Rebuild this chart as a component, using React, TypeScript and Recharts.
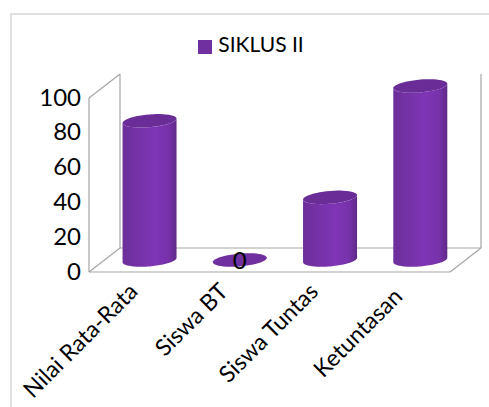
import { BarChart, Bar, XAxis, YAxis, Legend, LabelList } from 'recharts';

const categories = ['Nilai Rata-Rata', 'Siswa BT', 'Siswa Tuntas', 'Ketuntasan'];
const siklusII = [80, 0, 36, 100];
const yTicks = [0, 20, 40, 60, 80, 100];

const data = categories.map((name, i) => ({ name, value: siklusII[i] }));

const FONT = 'Lato, Carlito, sans-serif';
const WIDTH = 489;
const HEIGHT = 407;
const LEFT = 89;
const RIGHT = 450;
const TOP = 98;
const BOTTOM = 272;
// depth of the fake 3D box
const DX = 31;
const DY = 24;
const WALL = '#a6a6a6';

function Walls() {
  const lines = [
    [LEFT, TOP, LEFT, BOTTOM],
    [LEFT, BOTTOM, RIGHT, BOTTOM],
    [LEFT, TOP, LEFT + DX, TOP - DY],
    [LEFT + DX, TOP - DY, LEFT + DX, BOTTOM - DY],
    [LEFT, BOTTOM, LEFT + DX, BOTTOM - DY],
    [LEFT + DX, BOTTOM - DY, RIGHT + DX, BOTTOM - DY],
    [RIGHT, BOTTOM, RIGHT + DX, BOTTOM - DY],
    [RIGHT + DX, TOP - DY, RIGHT + DX, BOTTOM - DY],
  ];
  return (
    <g>
      {lines.map(([x1, y1, x2, y2], i) => (
        <line key={i} x1={x1} y1={y1} x2={x2} y2={y2} stroke={WALL} strokeWidth={1.2} />
      ))}
    </g>
  );
}

// sheared ellipse outline between two angles, as polyline points
function rim(cx: number, cy: number, rx: number, ry: number, from: number, to: number) {
  const slope = -2.2;
  const pts: string[] = [];
  for (let i = 0; i <= 48; i++) {
    const t = from + ((to - from) * i) / 48;
    pts.push(`${cx + rx * Math.cos(t)} ${cy + ry * Math.sin(t) + slope * Math.cos(t)}`);
  }
  return pts;
}

function Cylinder(props: any) {
  const { x, y, width, height } = props;
  const rx = width / 2;
  const ry = 6.4;
  const cx = x + DX / 2 + rx;
  const topY = y - DY / 2;
  const baseY = topY + height;

  if (height < 1) {
    return <path d={`M${rim(cx, baseY, rx, ry, 0, Math.PI * 2).join(' L')} Z`} fill="#7030a0" />;
  }

  const back = rim(cx, topY, rx, ry, Math.PI, 0);
  const front = rim(cx, baseY, rx, ry, 0, Math.PI);
  const whole = rim(cx, topY, rx, ry, 0, Math.PI * 2);

  return (
    <g>
      <path d={`M${back.join(' L')} L${front.join(' L')} Z`} fill="url(#cylinderBody)" />
      <path d={`M${whole.join(' L')} Z`} fill="#6a2d98" />
    </g>
  );
}

function ZeroLabel(props: any) {
  const { x, y, width, value } = props;
  return (
    <text
      x={x + width / 2 + DX / 2}
      y={y - DY / 2 + 9}
      textAnchor="middle"
      fontFamily={FONT}
      fontSize={24}
      fill="#000"
    >
      {value === 0 ? value : ''}
    </text>
  );
}

function CategoryTick(props: any) {
  const { x, y, payload, index } = props;
  // last label sits a bit further left and lower in the reference
  const px = x + (index === 3 ? -1 : 5);
  const py = y + (index === 3 ? 18 : 13);
  return (
    <text
      x={px}
      y={py}
      transform={`rotate(-45 ${px} ${py})`}
      textAnchor="end"
      fontFamily={FONT}
      fontSize={23}
      fill="#000"
    >
      {payload.value}
    </text>
  );
}

export default function App() {
  return (
    <div style={{ position: 'absolute', left: 0, top: 0, width: WIDTH, height: HEIGHT, overflow: 'hidden', background: '#fff' }}>
      <div
        style={{
          position: 'absolute',
          left: 10,
          top: 13,
          width: WIDTH,
          height: HEIGHT,
          borderLeft: '2px solid #e0e0e0',
          borderTop: '2px solid #e0e0e0',
        }}
      />
      <BarChart
        width={WIDTH}
        height={HEIGHT}
        data={data}
        margin={{ top: TOP, left: LEFT - 60, right: WIDTH - RIGHT, bottom: HEIGHT - BOTTOM - 40 }}
        barCategoryGap="20%"
        style={{ position: 'absolute', left: 0, top: 0 }}
      >
        <defs>
          <linearGradient id="cylinderBody" x1="0" y1="0" x2="1" y2="0">
            <stop offset="0%" stopColor="#6c2f9a" />
            <stop offset="60%" stopColor="#7f35b6" />
            <stop offset="85%" stopColor="#7732aa" />
            <stop offset="100%" stopColor="#5f2a88" />
          </linearGradient>
        </defs>
        <Walls />
        <XAxis
          dataKey="name"
          height={40}
          interval={0}
          axisLine={false}
          tickLine={false}
          tick={<CategoryTick />}
        />
        <YAxis
          width={60}
          domain={[0, 100]}
          ticks={yTicks}
          axisLine={false}
          tickLine={false}
          tickMargin={2}
          tick={{ fontFamily: FONT, fontSize: 24, fill: '#000', dy: -1 }}
        />
        <Legend
          iconType="square"
          iconSize={14}
          layout="horizontal"
          verticalAlign="middle"
          wrapperStyle={{ position: 'absolute', left: 169, top: 31, width: 174, fontFamily: FONT, fontSize: 21 }}
          formatter={(v: string) => <span style={{ color: '#000', marginLeft: 2 }}>{v}</span>}
        />
        <Bar dataKey="value" name="SIKLUS II" fill="#7030a0" shape={<Cylinder />} isAnimationActive={false}>
          <LabelList dataKey="value" content={<ZeroLabel />} />
        </Bar>
      </BarChart>
    </div>
  );
}
